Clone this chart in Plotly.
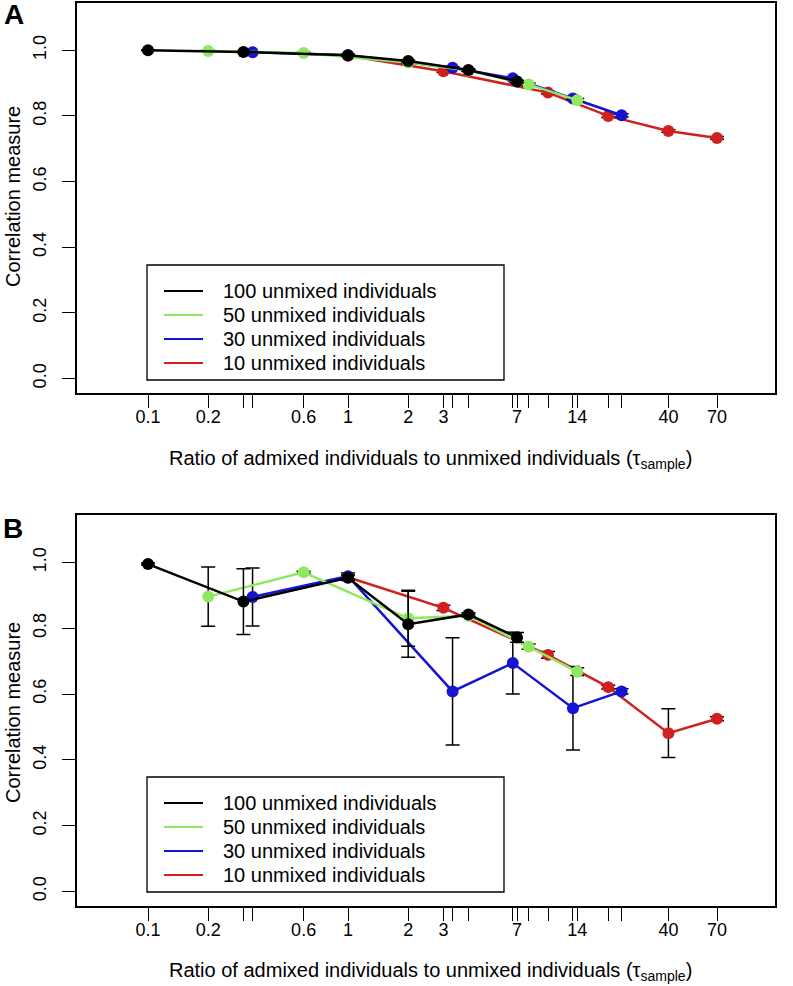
import plotly.graph_objects as go

# ---------------- data ----------------
x100 = [0.1, 0.3, 1, 2, 4, 7]
x50 = [0.2, 0.6, 2, 4, 8, 14]
x30 = [0.3333, 1, 3.333, 6.667, 13.33, 23.33]
x10 = [1, 3, 10, 20, 40, 70]

# Panel A
a100 = [1.000, 0.995, 0.985, 0.967, 0.940, 0.905]
a50 = [0.998, 0.992, 0.963, 0.938, 0.896, 0.848]
a30 = [0.994, 0.985, 0.947, 0.915, 0.853, 0.802]
a10 = [0.983, 0.936, 0.871, 0.800, 0.754, 0.733]
ea100 = [0.001, 0.002, 0.003, 0.003, 0.004, 0.004]
ea50 = [0.001, 0.002, 0.003, 0.003, 0.004, 0.005]
ea30 = [0.001, 0.002, 0.003, 0.004, 0.004, 0.005]
ea10 = [0.002, 0.003, 0.004, 0.005, 0.004, 0.004]

# Panel B
b100 = [0.995, 0.881, 0.953, 0.812, 0.842, 0.772]
b50 = [0.896, 0.970, 0.830, 0.838, 0.744, 0.668]
b30 = [0.895, 0.958, 0.608, 0.694, 0.557, 0.608]
b10 = [0.955, 0.862, 0.719, 0.621, 0.481, 0.525]
eb100 = [0.003, 0.100, 0.008, 0.100, 0.005, 0.015]
eb50 = [0.090, 0.003, 0.085, 0.005, 0.008, 0.012]
eb30 = [0.088, 0.010, 0.163, 0.094, 0.127, 0.008]
eb10 = [0.005, 0.008, 0.010, 0.006, 0.074, 0.006]

names = ["100 unmixed individuals", "50 unmixed individuals",
         "30 unmixed individuals", "10 unmixed individuals"]
colors = ["#000000", "#8fe860", "#1414d2", "#d02020"]

tick_vals = [0.1, 0.2, 0.3, 0.3333, 0.6, 1, 2, 3, 3.333, 4, 6.667, 7, 8, 10,
             13.33, 14, 20, 23.33, 40, 70]
tick_text = ["0.1", "0.2", "", "", "0.6", "1", "2", "3", "", "", "", "7", "", "",
             "", "14", "", "", "40", "70"]
y_ticks = [0.0, 0.2, 0.4, 0.6, 0.8, 1.0]

W, H = 793, 986
FONT = "Liberation Sans, Arial, Helvetica, sans-serif"


def px(x):
    return x / W


def py(y):
    return 1 - y / H


fig = go.Figure()

panels = [
    ("x", "y", [x100, x50, x30, x10], [a100, a50, a30, a10],
     [ea100, ea50, ea30, ea10]),
    ("x2", "y2", [x100, x50, x30, x10], [b100, b50, b30, b10],
     [eb100, eb50, eb30, eb10]),
]

draw_order = [3, 2, 1, 0]
for xa, ya, xs, ys, es in panels:
    for i in draw_order:
        fig.add_trace(go.Scatter(
            x=xs[i], y=ys[i], xaxis=xa, yaxis=ya, mode="lines+markers",
            line=dict(color=colors[i], width=2.5),
            marker=dict(color=colors[i], size=12),
            error_y=dict(type="data", array=es[i], color="black",
                         thickness=1.5, width=7),
            name=names[i], showlegend=False, hoverinfo="skip"))

xdom = [px(77), px(775)]
xrange_log = [-1.355, 2.135]
yrange = [-0.044, 1.144]

axis_common = dict(showline=True, mirror=True, linecolor="black", linewidth=1.5,
                   ticks="outside", ticklen=13, tickwidth=1.3, tickcolor="black",
                   showgrid=False, zeroline=False,
                   tickfont=dict(family=FONT, size=18, color="black"))

fig.update_layout(
    width=W, height=H, margin=dict(l=0, r=0, t=0, b=0),
    paper_bgcolor="white", plot_bgcolor="white", showlegend=False,
    font=dict(family=FONT, size=20, color="black"),
    xaxis=dict(domain=xdom, type="log", range=xrange_log, anchor="y",
               tickvals=tick_vals, ticktext=tick_text, ticklabelstandoff=-6,
               **axis_common),
    yaxis=dict(domain=[py(393), py(3)], range=yrange, anchor="x",
               tickvals=y_ticks, tickformat=".1f", tickangle=-90,
               ticklabelstandoff=9, **axis_common),
    xaxis2=dict(domain=xdom, type="log", range=xrange_log, anchor="y2",
                tickvals=tick_vals, ticktext=tick_text, ticklabelstandoff=-6,
                **axis_common),
    yaxis2=dict(domain=[py(906), py(515)], range=yrange, anchor="x2",
                tickvals=y_ticks, tickformat=".1f", tickangle=-90,
                ticklabelstandoff=9, **axis_common),
)

annotations = []
# legends (frame, line keys, labels)
row_off = [26, 50, 74, 98]
for top in [265, 777]:
    fig.add_shape(type="rect", xref="paper", yref="paper",
                  x0=px(147), x1=px(504), y0=py(top + 115), y1=py(top),
                  line=dict(color="black", width=1.3), fillcolor="rgba(0,0,0,0)")
    for i in range(4):
        yy = top + row_off[i]
        fig.add_shape(type="line", xref="paper", yref="paper",
                      x0=px(164), x1=px(203), y0=py(yy), y1=py(yy),
                      line=dict(color=colors[i], width=2))
        annotations.append(dict(text=names[i], x=px(221), y=py(yy),
                                xanchor="left", yanchor="middle",
                                showarrow=False,
                                font=dict(size=20, family=FONT)))

xtitle = "Ratio of admixed individuals to unmixed individuals (τ<sub>sample</sub>)"
annotations += [
    dict(text="<b>A</b>", x=px(14), y=py(15), showarrow=False,
         font=dict(size=28, family=FONT)),
    dict(text="<b>B</b>", x=px(13), y=py(528), showarrow=False,
         font=dict(size=28, family=FONT)),
    dict(text="Correlation measure", x=px(13), y=py(197), textangle=-90,
         showarrow=False, font=dict(size=20, family=FONT)),
    dict(text="Correlation measure", x=px(13), y=py(713), textangle=-90,
         showarrow=False, font=dict(size=20, family=FONT)),
    dict(text=xtitle, x=px(430), y=py(460), showarrow=False,
         font=dict(size=20, family=FONT)),
    dict(text=xtitle, x=px(430), y=py(971), showarrow=False,
         font=dict(size=20, family=FONT)),
]
for a in annotations:
    a.update(xref="paper", yref="paper")
    a.setdefault("xanchor", "center")
    a.setdefault("yanchor", "middle")
fig.update_layout(annotations=annotations)

fig.write_html("out.html", config={"displayModeBar": False},
               post_script="document.body.style.margin='0';")
